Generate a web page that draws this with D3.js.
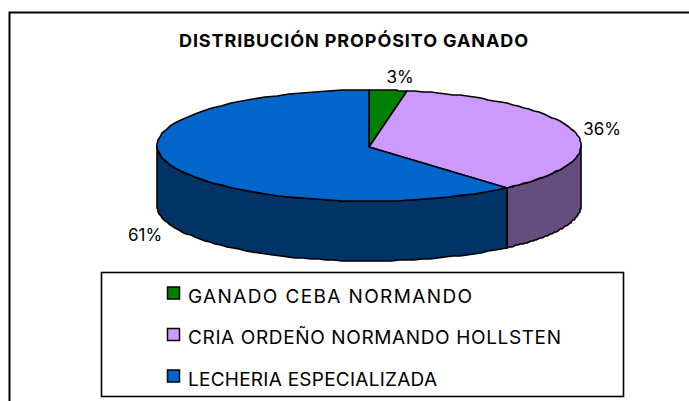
<!DOCTYPE html>
<html><head><meta charset="utf-8">
<script src="https://cdn.jsdelivr.net/npm/d3@7"></script>
<style>html,body{margin:0;padding:0;background:#fff}svg{display:block}</style>
</head><body><div id="chart"></div>
<script>
const titleText = "DISTRIBUCIÓN PROPÓSITO GANADO";
const categories = ["GANADO CEBA NORMANDO", "CRIA ORDEÑO NORMANDO HOLLSTEN", "LECHERIA ESPECIALIZADA"];
const values = [2.9, 35.8, 61.3];
const valueLabels = ["3%", "36%", "61%"];
const topColors = ["#008000", "#cc99ff", "#0066cc"];
const sideColors = ["#004000", "#664d80", "#003366"];

const W = 689, H = 401;
const cx = 369, cy = 145.5, rx = 212, ry = 55.5, depth = 60;
const font = "Inter,'Open Sans',sans-serif";
const legendTextWidths = [284, 373, 249];

const svg = d3.select("#chart").append("svg").attr("width", W).attr("height", H);
svg.append("rect").attr("x", 9.5).attr("y", 12.5).attr("width", 720).attr("height", 420)
  .attr("fill", "#fff").attr("stroke", "#000").attr("stroke-width", 2);
svg.append("text").attr("x", 179).attr("y", 47)
  .attr("textLength", 349).attr("lengthAdjust", "spacing")
  .attr("font-family", font).attr("font-weight", 700).attr("font-size", 18).attr("fill", "#000").text(titleText);

const arcs = d3.pie().sort(null).value(d => d)(values);
const px = d3.scaleLinear().domain([-1, 1]).range([cx - rx, cx + rx]);
const py = d3.scaleLinear().domain([-1, 1]).range([cy - ry, cy + ry]);
const line = d3.line();
const pt = (a, dy = 0) => [Math.round(px(Math.sin(a))), Math.round(py(-Math.cos(a))) + dy];
const sample = (a0, a1, dy = 0) => d3.range(0, 61).map(i => pt(a0 + (a1 - a0) * i / 60, dy));

const style = s => s.attr("stroke", "#000").attr("stroke-width", 1.6).attr("stroke-linejoin", "round");

// side walls: only the part of each slice facing the viewer
arcs.forEach((d, i) => {
  const a0 = Math.max(d.startAngle, Math.PI / 2), a1 = Math.min(d.endAngle, Math.PI * 1.5);
  if (a1 <= a0) return;
  const pts = sample(a0, a1).concat(sample(a1, a0, depth));
  style(svg.append("path").attr("d", line(pts) + "Z").attr("fill", sideColors[i]));
});
// top faces
arcs.forEach((d, i) => {
  const pts = [[cx, Math.round(cy) + 1]].concat(sample(d.startAngle, d.endAngle));
  style(svg.append("path").attr("d", line(pts) + "Z").attr("fill", topColors[i]));
});

// value labels
const labelPos = [[400, 83], [602, 135], [145, 241]];
valueLabels.forEach((t, i) => {
  svg.append("text").attr("x", labelPos[i][0]).attr("y", labelPos[i][1]).attr("text-anchor", "middle")
    .attr("font-family", font).attr("font-size", 17).attr("fill", "#000").text(t);
});

// legend
svg.append("rect").attr("x", 101.5).attr("y", 272.5).attr("width", 522).attr("height", 124)
  .attr("fill", "#fff").attr("stroke", "#000").attr("stroke-width", 1.6);
const ly = d3.scalePoint().domain(categories).range([293, 376]);
categories.forEach((c, i) => {
  svg.append("rect").attr("x", 167.5).attr("y", ly(c) - 6).attr("width", 12).attr("height", 12)
    .attr("fill", topColors[i]).attr("stroke", "#000").attr("stroke-width", 1.5);
  svg.append("text").attr("x", 188).attr("y", ly(c) + 9.5)
    .attr("textLength", legendTextWidths[i]).attr("lengthAdjust", "spacing")
    .attr("font-family", font).attr("font-size", 19).attr("fill", "#000").text(c);
});
</script></body></html>
